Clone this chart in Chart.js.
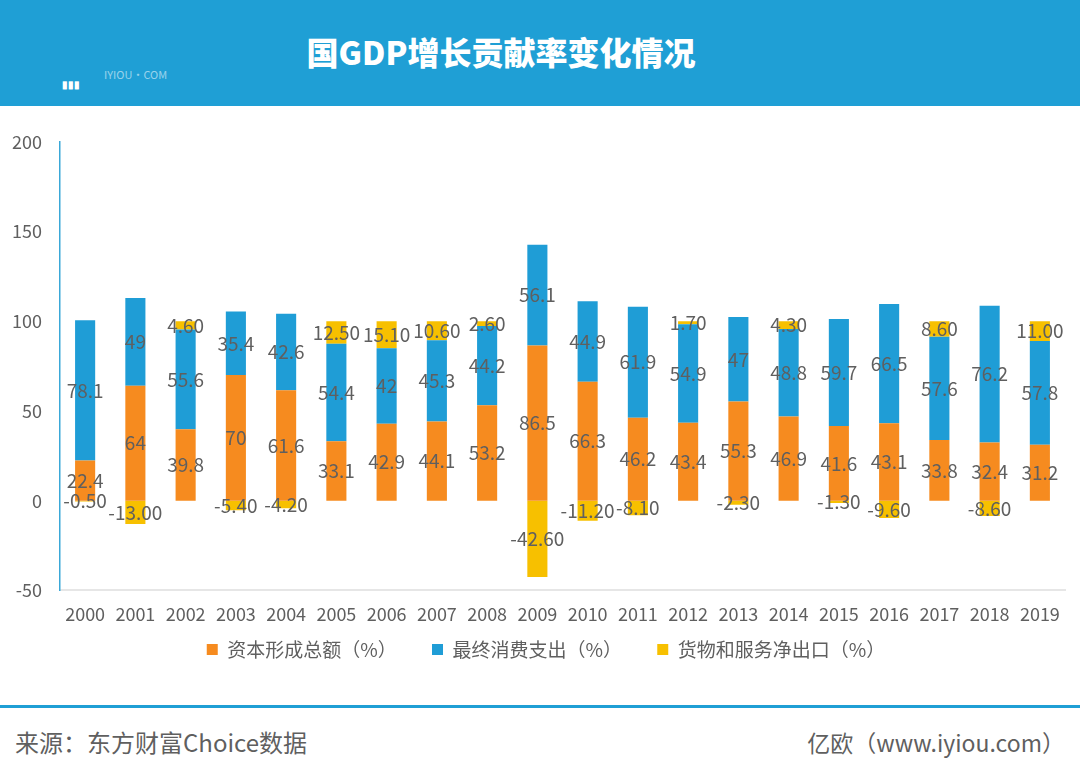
<!DOCTYPE html>
<html>
<head>
<meta charset="utf-8">
<script src="https://cdn.jsdelivr.net/npm/chart.js@4.4.1/dist/chart.umd.min.js"></script>
<style>
  body { margin: 0; width: 1080px; height: 776px; background: #fff; position: relative; overflow: hidden;
         font-family: "Noto Sans CJK SC", "Noto Sans", sans-serif; }
  #header { position: absolute; left: 0; top: 0; width: 1080px; height: 106px; background: #1F9FD5; }
  #title { position: absolute; left: 0; width: 1002px; top: 28px; text-align: center; color: #fff;
           font-size: 32px; font-weight: 900; }
  #mark1 { position: absolute; left: 62px; top: 76px; color: #fff; font-size: 10px; font-weight: bold; }
  #mark2 { position: absolute; left: 104px; top: 66px; color: rgba(255,255,255,0.55); font-size: 11px; }
  #chartBox { position: absolute; left: 0; top: 113px; width: 1080px; height: 556px; }
  #footLine { position: absolute; left: 0; top: 705px; width: 1080px; height: 3px; background: #1F9FD5; }
  .foot { position: absolute; top: 725px; color: #5f5f5f; font-size: 23px; }
</style>
</head>
<body>
<div id="header">
  <div id="title">国GDP增长贡献率变化情况</div>
  <div id="mark1">▮▮▮</div>
  <div id="mark2">IYIOU·COM</div>
</div>
<div id="chartBox"><canvas id="myChart"></canvas></div>
<div id="footLine"></div>
<div class="foot" style="left:15px; font-size:24px; top:724px;">来源：东方财富Choice数据</div>
<div class="foot" style="right:15px;">亿欧（www.iyiou.com）</div>

<script>
// --- data ---
const years = ['2000','2001','2002','2003','2004','2005','2006','2007','2008','2009',
               '2010','2011','2012','2013','2014','2015','2016','2017','2018','2019'];
const capitalFormation = [22.4, 64, 39.8, 70, 61.6, 33.1, 42.9, 44.1, 53.2, 86.5,
                          66.3, 46.2, 43.4, 55.3, 46.9, 41.6, 43.1, 33.8, 32.4, 31.2];
const finalConsumption = [78.1, 49, 55.6, 35.4, 42.6, 54.4, 42, 45.3, 44.2, 56.1,
                          44.9, 61.9, 54.9, 47, 48.8, 59.7, 66.5, 57.6, 76.2, 57.8];
const netExports = [-0.5, -13, 4.6, -5.4, -4.2, 12.5, 15.1, 10.6, 2.6, -42.6,
                    -11.2, -8.1, 1.7, -2.3, 4.3, -1.3, -9.6, 8.6, -8.6, 11.0];
const yTicks = [-50, 0, 50, 100, 150, 200];

const textGray = '#5f5f5f';
const fontFam = '"Noto Sans CJK SC", "Noto Sans", sans-serif';

// draw value labels in the middle of each segment
const segLabels = {
  id: 'segLabels',
  afterDatasetsDraw(chart) {
    const ctx = chart.ctx;
    ctx.save();
    ctx.font = '19px ' + fontFam;
    ctx.fillStyle = textGray;
    ctx.textAlign = 'center';
    ctx.textBaseline = 'middle';
    chart.data.datasets.forEach((ds, i) => {
      const meta = chart.getDatasetMeta(i);
      meta.data.forEach((bar, j) => {
        const v = ds.data[j];
        const txt = ds.decimals ? v.toFixed(ds.decimals) : String(v);
        ctx.fillText(txt, bar.x, (bar.y + bar.base) / 2);
      });
    });
    ctx.restore();
  }
};

window.onload = function() {
  const ctx = document.getElementById('myChart').getContext('2d');
  new Chart(ctx, {
    type: 'bar',
    data: {
      labels: years,
      datasets: [
        { label: '资本形成总额（%）', data: capitalFormation, backgroundColor: '#F68B1F', decimals: 0 },
        { label: '最终消费支出（%）', data: finalConsumption, backgroundColor: '#1F9DD6', decimals: 0 },
        { label: '货物和服务净出口（%）', data: netExports, backgroundColor: '#F7C000', decimals: 2 }
      ]
    },
    options: {
      responsive: true,
      maintainAspectRatio: false,
      animation: false,
      layout: { padding: { top: 16, right: 0, left: 12, bottom: 0 } },
      datasets: { bar: { barPercentage: 0.4, categoryPercentage: 1.0 } },
      scales: {
        x: {
          stacked: true,
          grid: { display: false, drawTicks: false },
          border: { color: '#E6E6E6', width: 2 },
          ticks: { color: textGray, font: { family: fontFam, size: 18 }, padding: 13, maxRotation: 0, autoSkip: false }
        },
        y: {
          stacked: true,
          min: -50, max: 200,
          afterBuildTicks: (s) => { s.ticks = yTicks.map(v => ({ value: v })); },
          afterFit: (s) => { s.width = 48; },
          grid: { display: false, drawTicks: false },
          border: { color: '#3AA8D8', width: 1.5 },
          ticks: { color: textGray, font: { family: fontFam, size: 18 }, padding: 18 }
        },
        // empty right-hand spacer so the legend stays centred on the full width
        yRight: {
          position: 'right',
          min: -50, max: 200,
          afterFit: (s) => { s.width = 15; },
          grid: { display: false, drawTicks: false },
          border: { display: false },
          ticks: { display: false }
        }
      },
      plugins: {
        legend: {
          position: 'bottom',
          labels: {
            color: textGray, font: { family: fontFam, size: 19 }, boxWidth: 11, boxHeight: 11, padding: 2,
            // widen the gap between items without adding vertical padding
            generateLabels: (chart) => {
              const items = Chart.defaults.plugins.legend.labels.generateLabels(chart);
              items.forEach((it, k) => { if (k < items.length - 1) it.text += '\u2003\u2002\u2005'; });
              return items;
            }
          }
        },
        tooltip: { enabled: false }
      }
    },
    plugins: [segLabels]
  });
};
</script>
</body>
</html>
